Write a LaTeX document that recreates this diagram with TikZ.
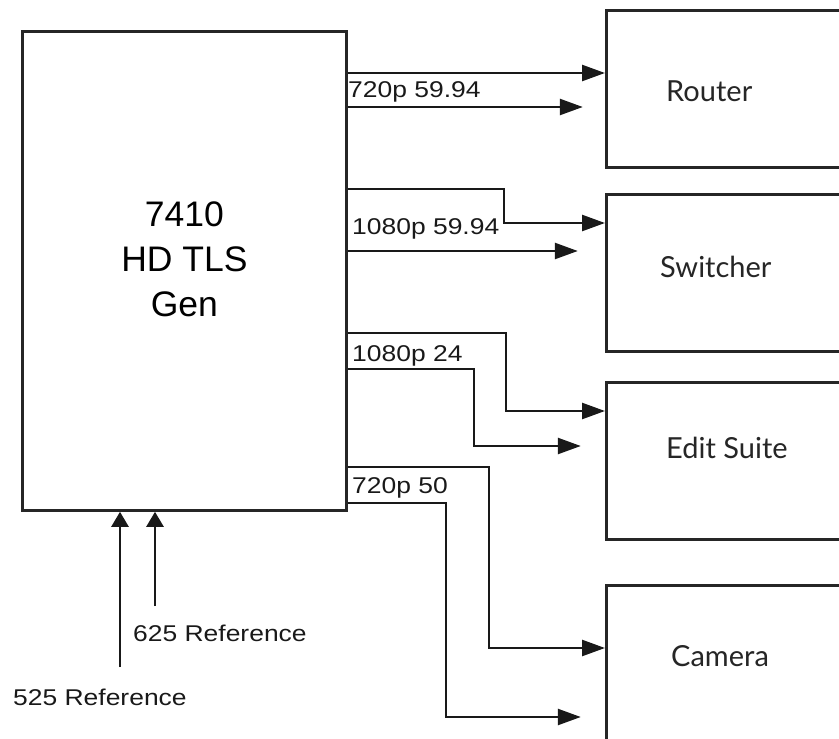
\documentclass[tikz,border=0pt]{standalone}
\usepackage{fontspec}
\setmainfont{Liberation Sans}
\newfontfamily\wirefont{Liberation Sans}[FakeStretch=1.16]
\newfontfamily\unitfont{Lato}
\usetikzlibrary{arrows.meta}

\begin{document}
\begin{tikzpicture}[
        x=1pt, y=-1pt,
        genbox/.style={rectangle, draw=black!85, line width=2.8pt, minimum width=324pt, minimum height=479pt, anchor=north west},
        gentext/.style={align=center, inner sep=0pt, font=\fontsize{35.5}{45}\selectfont},
        unit/.style={rectangle, draw=black!85, line width=2.8pt, minimum width=260pt, minimum height=157pt, anchor=north west},
        unitname/.style={anchor=base west, inner sep=0pt, text=black!85, font=\unitfont\fontsize{29}{34}\selectfont},
        wirelabel/.style={anchor=base west, inner sep=0pt, text=black!90, font=\wirefont\fontsize{22.8}{26}\selectfont},
        sig/.style={draw=black!90, line width=2.5pt, -{Triangle[length=23pt, width=16pt]}},
        refline/.style={draw=black!90, line width=2.5pt, -{Triangle[length=15pt, width=17pt]}}
    ]
    \useasboundingbox (0,0) rectangle (839,739);
    \clip (0,0) rectangle (839,739);

    % generator
    \node[genbox] (gen) at (21,30) {};
    \node[gentext] (gentitle) at ([yshift=11.5pt]gen.center) {7410\\HD TLS\\Gen};

    % destinations
    \node[unit] (router) at (605,9) {};
    \node[unit] (switcher) at (605,193) {};
    \node[unit] (edit) at (605,381) {};
    \node[unit] (camera) at (605,584) {};
    \node[unitname] (routername) at (666,101) {Router};
    \node[unitname] (switchername) at (660,277) {Switcher};
    \node[unitname] (editname) at (666,458.5) {Edit Suite};
    \node[unitname] (cameraname) at (671,666.5) {Camera};

    % outputs
    \draw[sig] (gen.east |- 0,73) -- (router.west |- 0,73);
    \draw[sig] (gen.east |- 0,107) -- ++(235,0);
    \draw[sig] (gen.east |- 0,189) -| ++(156,34) -- (switcher.west |- 0,223);
    \draw[sig] (gen.east |- 0,251) -- ++(230,0);
    \draw[sig] (gen.east |- 0,333) -| ++(158,78) -- (edit.west |- 0,411);
    \draw[sig] (gen.east |- 0,369) -| ++(126,77) -- ++(107,0);
    \draw[sig] (gen.east |- 0,467) -| ++(141,181) -- (camera.west |- 0,648);
    \draw[sig] (gen.east |- 0,503) -| ++(98,214) -- ++(135,0);

    \node[wirelabel] (fmt1) at (348,97.7) {720p 59.94};
    \node[wirelabel] (fmt2) at (352,234) {1080p 59.94};
    \node[wirelabel] (fmt3) at (352,361.7) {1080p 24};
    \node[wirelabel] (fmt4) at (352,493) {720p 50};

    % references
    \coordinate (ref525) at (120,667);
    \coordinate (ref625) at (155,606);
    \draw[refline] (ref525) -- (ref525 |- gen.south);
    \draw[refline] (ref625) -- (ref625 |- gen.south);
    \node[wirelabel] (lbl625) at (133,641.7) {625 Reference};
    \node[wirelabel] (lbl525) at (13,705.7) {525 Reference};
\end{tikzpicture}
\end{document}
